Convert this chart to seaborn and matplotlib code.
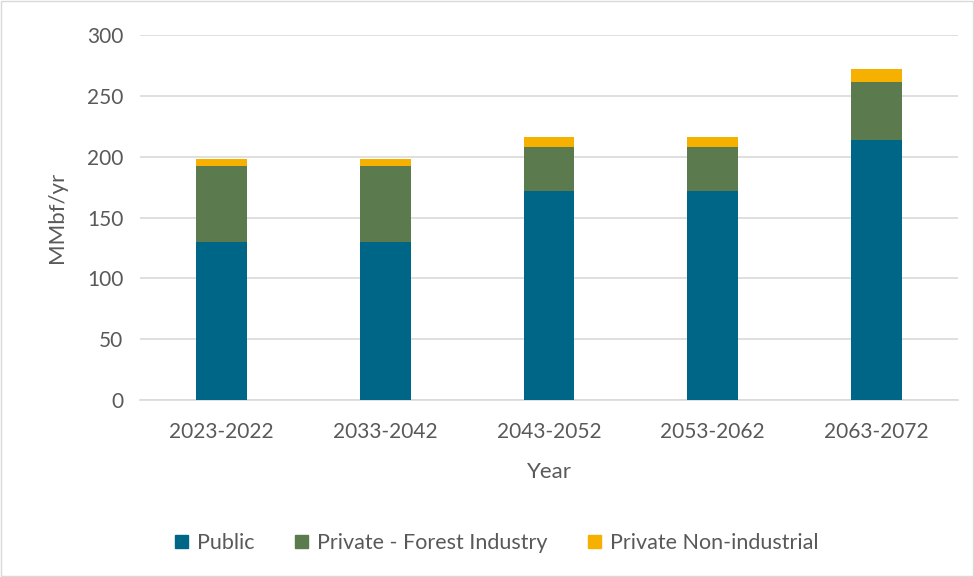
import seaborn as sns
import matplotlib.pyplot as plt
import pandas as pd
from matplotlib.patches import Patch

periods = ["2023-2022", "2033-2042", "2043-2052", "2053-2062", "2063-2072"]
public = [130, 130, 172, 172, 214]
forest_industry = [62, 62, 36, 36, 47]
non_industrial = [6, 6, 8, 8, 11]

c_public = "#006688"
c_forest = "#5B7A4E"
c_nonind = "#F5B000"
txt = "#595959"

df = pd.DataFrame({"period": periods, "public": public,
                   "forest": forest_industry, "nonind": non_industrial})
df["lvl2"] = df["public"] + df["forest"]
df["lvl3"] = df["lvl2"] + df["nonind"]

sns.set_style("white")
plt.rcParams["font.family"] = ["Lato", "DejaVu Sans"]

fig = plt.figure(figsize=(9.74, 5.77), dpi=100)
ax = fig.add_axes([0.1437, 0.3068, 0.84, 0.6325])

# stacked bars: draw totals first, then cover with lower layers
for col, c in [("lvl3", c_nonind), ("lvl2", c_forest), ("public", c_public)]:
    sns.barplot(data=df, x="period", y=col, color=c, width=0.31,
                saturation=1, linewidth=0, ax=ax, zorder=3)

ax.set_ylim(0, 300)
ax.set_yticks(range(0, 301, 50))
ax.grid(axis="y", color="#D9D9D9", linewidth=1.2, zorder=0)
for s in ["top", "right", "left"]:
    ax.spines[s].set_visible(False)
ax.spines["bottom"].set_color("#D9D9D9")
ax.spines["bottom"].set_linewidth(1.2)
ax.tick_params(length=0, labelsize=15, colors=txt, pad=12)
ax.tick_params(axis="x", pad=16)
ax.set_xlabel("Year", fontsize=16, color=txt, labelpad=14)
ax.set_ylabel("MMbf/yr", fontsize=16, color=txt, labelpad=14)

handles = [Patch(color=c_public, label="Public"),
           Patch(color=c_forest, label="Private - Forest Industry"),
           Patch(color=c_nonind, label="Private Non-industrial")]
fig.legend(handles=handles, loc="center", bbox_to_anchor=(0.51, 0.059),
           ncol=3, frameon=False, fontsize=15.5, labelcolor=txt,
           handlelength=0.6, handleheight=0.6, handletextpad=0.4,
           columnspacing=1.9)

fig.patches.append(plt.Rectangle((0.001, 0.001), 0.998, 0.998,
                                 transform=fig.transFigure, fill=False,
                                 edgecolor="#D9D9D9", linewidth=1))

fig.savefig("out.png", dpi=100)
